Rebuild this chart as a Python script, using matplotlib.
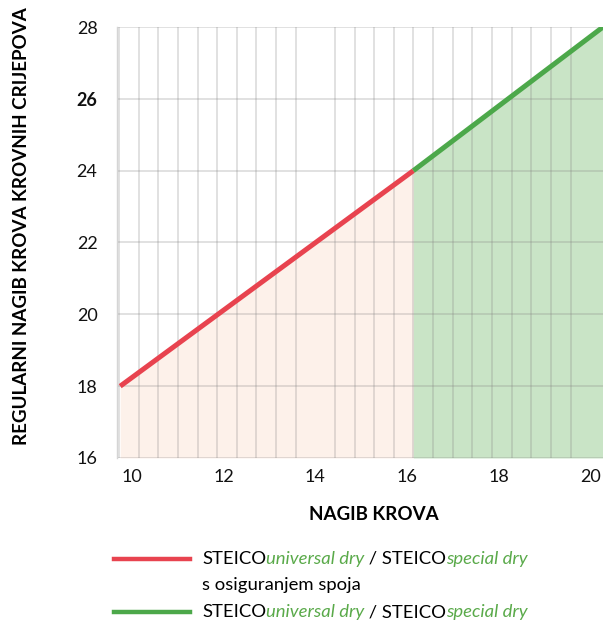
import numpy as np
import matplotlib
matplotlib.use("Agg")
import matplotlib.pyplot as plt
from matplotlib.lines import Line2D

plt.rcParams['font.family'] = ['Lato', 'DejaVu Sans']

# roof pitch (x) vs regular tile pitch (y)
red_x = [9.74, 16.14]
red_y = [18.0, 24.0]
green_x = [16.14, 20.28]
green_y = [24.0, 28.0]

x_ticks = [10, 12, 14, 16, 18, 20]
y_ticks = [16, 18, 20, 22, 24, 26, 28]
grid_step = 3 / 7

RED = '#e8434f'
GREEN = '#4ca84a'
TXT_GREEN = '#5aaa4a'

fig = plt.figure(figsize=(6.03, 6.22), dpi=100)
ax = fig.add_axes([117 / 603, 1 - 458 / 622, 486 / 603, 431 / 622])

ax.fill_between(red_x, red_y, 16, color='#fdf1ea', lw=0, zorder=0.2)
ax.fill_between(green_x, green_y, 16, color='#c9e4c6', lw=0, zorder=0.2)
ax.plot(red_x, red_y, color=RED, lw=3.6, solid_capstyle='butt', zorder=3)
ax.plot(green_x, green_y, color=GREEN, lw=3.6, solid_capstyle='butt', zorder=3)

ax.set_xlim(9.67, 20.28)
ax.set_ylim(16, 28)
ax.set_axisbelow(True)

ax.set_xticks(x_ticks)
ax.set_xticklabels([str(v) for v in x_ticks])
ax.set_xticks(np.arange(20, 9.6, -grid_step), minor=True)
ax.set_yticks(y_ticks)
ax.set_yticklabels([str(v) for v in y_ticks])
for lab in ax.get_yticklabels():
    if lab.get_text() == '26':
        lab.set_fontweight('bold')

ax.grid(which='minor', axis='x', color='#808080', alpha=0.3, lw=1.1)
ax.grid(which='major', axis='y', color='#808080', alpha=0.3, lw=1.1)
ax.grid(which='major', axis='x', visible=False)

ax.tick_params(which='both', length=0, labelsize=13, colors='#111111')
ax.tick_params(axis='y', pad=14)
ax.tick_params(axis='x', pad=8)

for s in ['top', 'right', 'bottom']:
    ax.spines[s].set_visible(False)
ax.spines['left'].set_color('#d5d5d5')
ax.spines['left'].set_linewidth(1.0)

fig.text(22 / 603, 1 - 226 / 622, 'REGULARNI NAGIB KROVA KROVNIH CRIJEPOVA',
         rotation=90, ha='center', va='center', fontsize=13.5, fontweight='bold')
fig.text(374 / 603, 1 - 514 / 622, 'NAGIB KROVA', ha='center', va='center',
         fontsize=13.5, fontweight='bold')


# legend: line sample + mixed-style text pieces chained one after another
def legend_row(y_px, color, second_line=None):
    y = 1 - y_px / 622
    fig.add_artist(Line2D([114 / 603, 190 / 603], [y, y], color=color, lw=3.2,
                          transform=fig.transFigure))
    prev = fig.text(202 / 603, y, 'STEICO', ha='left', va='center', fontsize=13.3)
    pieces = [('universal dry', TXT_GREEN, 'italic'), (' / STEICO', 'black', 'normal'),
              ('special dry', TXT_GREEN, 'italic')]
    for txt, c, st in pieces:
        prev = ax.annotate(txt, xy=(1, 0), xycoords=prev, ha='left', va='bottom',
                           fontsize=13.3, color=c, style=st, annotation_clip=False)
    if second_line:
        fig.text(202 / 603, y - 26 / 622, second_line, ha='left', va='center',
                 fontsize=13.3)


legend_row(559, RED, 's osiguranjem spoja')
legend_row(612, GREEN)

fig.savefig('out.png', dpi=100)
